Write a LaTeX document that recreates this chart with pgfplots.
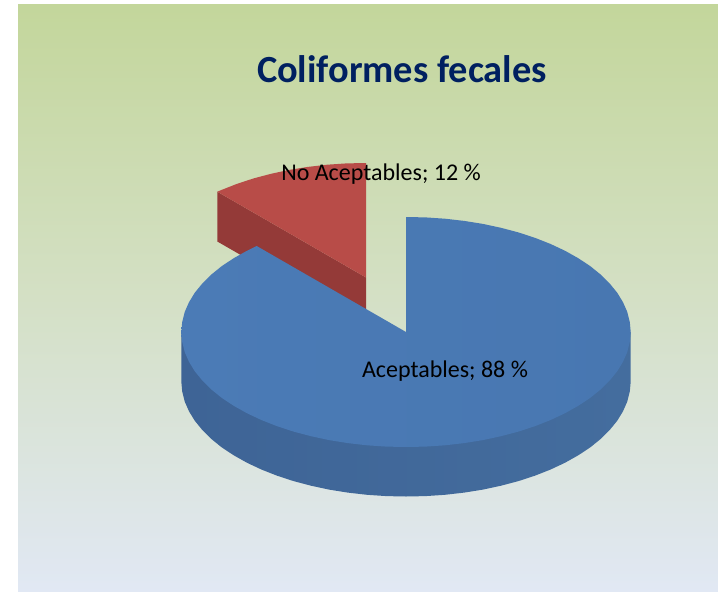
\documentclass[border=0pt]{standalone}
\usepackage{pgfplots}
\pgfplotsset{compat=1.18}
\usepackage{fontspec}
\setmainfont{Carlito}
\definecolor{bgtop}{RGB}{195,214,155}
\definecolor{bgmid}{RGB}{212,224,197}
\definecolor{bgbot}{RGB}{225,232,244}
\definecolor{titlec}{RGB}{0,32,96}
\definecolor{bluetopL}{RGB}{75,123,182}
\definecolor{bluetopR}{RGB}{72,119,177}
\definecolor{bluewallL}{RGB}{62,100,150}
\definecolor{bluewallM}{RGB}{71,113,165}
\definecolor{bluewallR}{RGB}{68,109,158}
\definecolor{redtop}{RGB}{184,76,72}
\definecolor{redwall}{RGB}{148,58,56}
\begin{document}
\begin{tikzpicture}
\begin{axis}[
  width=718pt, height=592pt, scale only axis, hide axis,
  xmin=0, xmax=718, ymin=0, ymax=592, y dir=reverse,
  no markers, clip=true]
% page and chart area
\addplot[fill=white, draw=none] coordinates {(0,0) (718,0) (718,592) (0,592)} -- cycle;
\addplot[shade, top color=bgtop, bottom color=bgbot, middle color=bgmid, draw=none]
  coordinates {(18,4) (718,4) (718,592) (18,592)} -- cycle;
% No Aceptables, 12 %: side wall and top
\addplot[fill=redwall, draw=none]
  coordinates {(217.3,191.7) (366,277.5) (366,327) (217.3,241.5)} -- cycle;
\addplot[fill=redtop, draw=none]
  coordinates {(366,277.5) (366,163) (346.4,163.4) (327,164.7) (307.8,166.9) (289.1,169.9)
  (271,173.8) (253.6,178.4) (237.1,183.8) (221.6,189.9) (217.3,191.7)} -- cycle;
% Aceptables, 88 %: side wall
\addplot[shade, left color=bluewallL, middle color=bluewallM, right color=bluewallR, draw=none]
  coordinates {(181.3,332) (181.3,381.5) (182.2,391.5) (184.7,401.5) (189,411.3) (194.8,420.8)
  (202.4,430.1) (211.4,439) (221.9,447.5) (233.9,455.4) (247.1,462.8) (261.6,469.6)
  (277.1,475.7) (293.6,481.1) (311,485.7) (329.1,489.6) (347.8,492.6) (367,494.8)
  (386.4,496.1) (406,496.5) (425.6,496.1) (445,494.8) (464.2,492.6) (482.9,489.6)
  (501,485.7) (518.4,481.1) (534.9,475.7) (550.4,469.6) (564.9,462.8) (578.1,455.4)
  (590.1,447.5) (600.6,439) (609.6,430.1) (617.2,420.8) (623,411.3) (627.3,401.5)
  (629.8,391.5) (630.7,381.5) (630.7,332)} -- cycle;
% Aceptables, 88 %: top
\addplot[shade, left color=bluetopL, right color=bluetopR, draw=none]
  coordinates {(406,332) (406,217) (425.6,217.4) (445,218.7) (464.2,220.9) (482.9,223.9)
  (501,227.8) (518.4,232.4) (534.9,237.8) (550.4,243.9) (564.9,250.7) (578.1,258.1)
  (590.1,266) (600.6,274.5) (609.6,283.4) (617.2,292.7) (623,302.2) (627.3,312)
  (629.8,322) (630.7,332) (629.8,342) (627.3,352) (623,361.8) (617.2,371.3)
  (609.6,380.6) (600.6,389.5) (590.1,398) (578.1,405.9) (564.9,413.3) (550.4,420.1)
  (534.9,426.2) (518.4,431.6) (501,436.2) (482.9,440.1) (464.2,443.1) (445,445.3)
  (425.6,446.6) (406,447) (386.4,446.6) (367,445.3) (347.8,443.1) (329.1,440.1)
  (311,436.2) (293.6,431.6) (277.1,426.2) (261.6,420.1) (247.1,413.3) (233.9,405.9)
  (221.9,398) (211.4,389.5) (202.4,380.6) (194.8,371.3) (189,361.8) (184.7,352)
  (182.2,342) (181.3,332) (182.2,322) (184.7,312) (189,302.2) (194.8,292.7)
  (202.4,283.4) (211.4,274.5) (221.9,266) (233.9,258.1) (247.1,250.7) (256.7,246)} -- cycle;
% texts
\node[text=titlec, font=\fontsize{38.4}{44}\selectfont\bfseries, inner sep=0pt] at (axis cs:402,69) {Coliformes fecales};
\node[text=black, font=\fontsize{24}{28}\selectfont, inner sep=0pt] at (axis cs:381,174) {No Aceptables; 12 \%};
\node[text=black, font=\fontsize{24}{28}\selectfont, inner sep=0pt] at (axis cs:445,371) {Aceptables; 88 \%};
\end{axis}
\end{tikzpicture}
\end{document}
